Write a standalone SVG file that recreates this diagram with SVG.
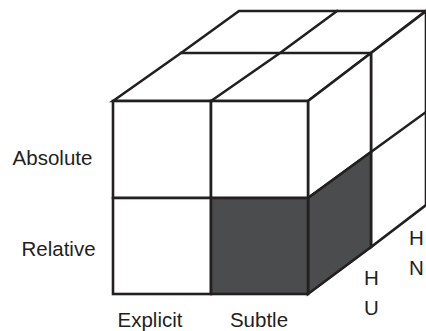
<svg xmlns="http://www.w3.org/2000/svg" width="426" height="331" viewBox="0 0 426 331">
  <style>
    .edge { fill: none; stroke: #231f20; stroke-width: 2.6; stroke-linejoin: miter; stroke-linecap: square; }
    .face { fill: #ffffff; stroke: #231f20; stroke-width: 2.6; stroke-linejoin: miter; }
    .dark { fill: #4b4c4e; stroke: #231f20; stroke-width: 2.6; stroke-linejoin: miter; }
    .lbl { font-family: "Liberation Sans", Arial, Helvetica, sans-serif; font-size: 20.5px; fill: #231f20; }
  </style>
  <rect width="426" height="331" fill="#ffffff"/>

  <!-- top surface -->
  <g id="top">
    <polygon class="face" points="113,101 181,53 239,11 426,11 371,53 308,101"/>
    <line class="edge" x1="181" y1="53" x2="371" y2="53"/>
    <polyline class="edge" points="211,101 280,53 337,11"/>
  </g>

  <!-- right side, back column -->
  <g id="back-side">
    <polygon class="face" points="371,53 426,11 426,205 371,247"/>
    <line class="edge" x1="371" y1="152" x2="426" y2="112"/>
  </g>

  <!-- right side, front column -->
  <g id="front-side">
    <polygon class="face" points="308,101 371,53 371,152 308,198"/>
    <polygon class="dark" points="308,198 371,152 371,247 308,294"/>
  </g>

  <!-- front face cells -->
  <g id="front">
    <rect class="face" x="113" y="101" width="98" height="97"/>
    <rect class="face" x="211" y="101" width="97" height="97"/>
    <rect class="face" x="113" y="198" width="98" height="96"/>
    <rect class="dark" x="211" y="198" width="97" height="96"/>
  </g>

  <!-- axis labels -->
  <g id="labels">
    <text class="lbl" x="52.5" y="165" text-anchor="middle">Absolute</text>
    <text class="lbl" x="58.5" y="256" text-anchor="middle">Relative</text>
    <text class="lbl" x="150" y="327" text-anchor="middle">Explicit</text>
    <text class="lbl" x="259" y="327" text-anchor="middle">Subtle</text>
    <text class="lbl" x="371.5" y="285" text-anchor="middle">H</text>
    <text class="lbl" x="371.5" y="315" text-anchor="middle">U</text>
    <text class="lbl" x="416.5" y="245" text-anchor="middle">H</text>
    <text class="lbl" x="416.5" y="275" text-anchor="middle">N</text>
  </g>
</svg>
